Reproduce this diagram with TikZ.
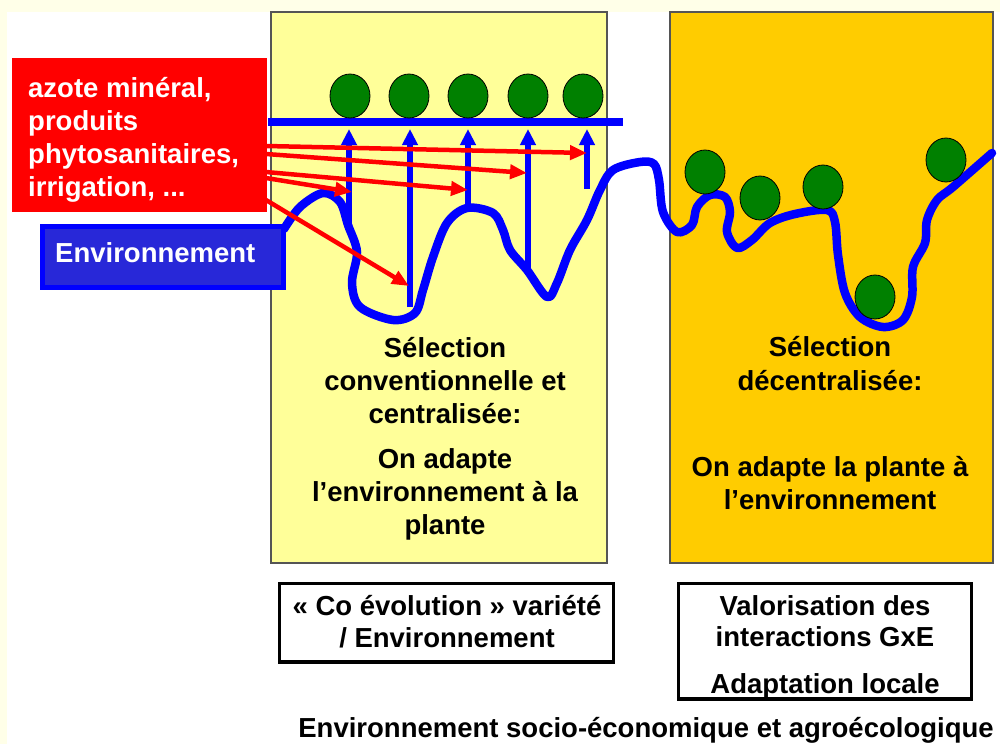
\documentclass[tikz,border=0pt]{standalone}
\usepackage{fontspec}
\setmainfont{Liberation Sans}
\usetikzlibrary{arrows.meta,shapes.geometric}
\definecolor{cream}{HTML}{FFFFE8}
\definecolor{paleY}{HTML}{FFFF99}
\definecolor{gold}{HTML}{FFCC00}
\definecolor{pblue}{HTML}{0000FF}
\definecolor{envfill}{HTML}{2828D8}
\definecolor{leaf}{HTML}{008000}
\definecolor{redc}{HTML}{FF0000}
\definecolor{panelline}{HTML}{555555}
\begin{document}
\begin{tikzpicture}[x=1pt,y=-1pt,
  txt/.style={font=\bfseries\fontsize{27.5}{33}\selectfont, inner sep=0pt, anchor=base},
  wtxt/.style={txt, text=white, anchor=base west},
  panel/.style={draw=panelline, line width=1.5pt},
  plant/.style={ellipse, draw=black, line width=0.8pt, fill=leaf, minimum width=40, minimum height=44, inner sep=0pt},
  uparrow/.style={draw=pblue, line width=6pt, -{Triangle[width=15pt,length=16pt]}},
  redarrow/.style={draw=redc, line width=4.5pt, -{Triangle[width=14pt,length=17pt]}},
  curve/.style={draw=pblue, line width=8.5pt, line cap=round, line join=round},
  framebox/.style={draw=black, line width=3.3pt, fill=white}
]
\useasboundingbox (0,0) rectangle (1000,744);
\fill[cream] (0,0) rectangle (1000,744);
\fill[white] (7,12) rectangle (1000,744);

% panels
\path[panel, fill=paleY] (271,12) rectangle (607,563);
\path[panel, fill=gold] (670,12) rectangle (993,563);

% bottom boxes
\path[framebox] (279.5,583.5) rectangle (613.5,662);
\path[framebox] (678.5,583.5) rectangle (971.5,699);

% wavy environment curve
\draw[curve] plot[smooth, tension=0.55] coordinates {
 (284,229) (300,207) (323,193) (340,202) (348,225) (357,252) (352,283) (360,307)
 (393,320) (415,313) (423,290) (433,257) (447,223) (467,208) (493,213) (503,230)
 (510,250) (527,270) (547,297) (557,283) (570,250) (587,220) (600,190) (613,170)
 (640,162) (654,164) (659,180) (663,212) (677,232) (692,225) (697,207) (710,195)
 (725,197) (730,212) (727,232) (737,248) (752,240) (770,223) (795,214) (827,210)
 (835,222) (838,255) (845,293) (860,317) (883,327) (903,320) (912,297) (913,267)
 (925,243) (927,220) (937,200) (953,187) (992,153)};

% red box
\node[fill=redc, minimum width=255, minimum height=154, inner sep=0pt] (inputs) at (139.5,135) {};
\node[wtxt] (in1) at (28,97) {azote minéral,};
\node[wtxt] (in2) at (28,130) {produits};
\node[wtxt] (in3) at (28,163) {phytosanitaires,};
\node[wtxt] (in4) at (28,196) {irrigation, ...};

% environment box
\node[draw=pblue, line width=5pt, fill=envfill, minimum width=241, minimum height=61, inner sep=0pt] (env) at (163,257) {};
\node[wtxt] (envt) at (55,262) {Environnement};

% horizontal line
\coordinate (hl1) at (268,122);
\coordinate (hl2) at (623,122);
\draw[draw=pblue, line width=8pt] (hl1) -- (hl2);

% blue up arrows
\foreach \i/\x/\y in {1/349/231, 2/410/307, 3/468/206, 4/528/268, 5/587/189}{
  \coordinate (ub\i) at (\x,\y);
  \coordinate (ut\i) at (\x,129);
  \draw[uparrow] (ub\i) -- (ut\i);
}

% red arrows
\foreach \i/\sy/\tx/\ty in {1/146/587/153, 2/154/527/173, 3/172/468/190, 4/178/352/192, 5/200/409/286}{
  \coordinate (rs\i) at (266,\sy);
  \coordinate (rt\i) at (\tx,\ty);
  \draw[redarrow] (rs\i) -- (rt\i);
}

% plants left
\foreach \i/\x in {1/350, 2/409, 3/468, 4/528, 5/583}{
  \node[plant] (pl\i) at (\x,96) {};
}
% plants right
\node[plant] (pr1) at (705,172) {};
\node[plant] (pr2) at (760,198) {};
\node[plant] (pr3) at (823,187) {};
\node[plant] (pr4) at (875,297) {};
\node[plant] (pr5) at (946,160) {};

% left panel text
\node[txt] (l1) at (445,357) {Sélection};
\node[txt] (l2) at (445,390) {conventionnelle et};
\node[txt] (l3) at (445,423) {centralisée:};
\node[txt] (l4) at (445,468) {On adapte};
\node[txt] (l5) at (445,501) {l’environnement à la};
\node[txt] (l6) at (445,534) {plante};

% right panel text
\node[txt] (r1) at (830,356) {Sélection};
\node[txt] (r2) at (830,390) {décentralisée:};
\node[txt] (r3) at (830,476) {On adapte la plante à};
\node[txt] (r4) at (830,509) {l’environnement};

% bottom box texts
\node[txt] (b1) at (447,615) {« Co évolution » variété};
\node[txt] (b2) at (447,647) {/ Environnement};
\node[txt] (b3) at (825,615) {Valorisation des};
\node[txt] (b4) at (825,646) {interactions GxE};
\node[txt] (b5) at (825,693) {Adaptation locale};

\node[txt] (foot) at (646,737) {Environnement socio-économique et agroécologique};
\end{tikzpicture}
\end{document}
